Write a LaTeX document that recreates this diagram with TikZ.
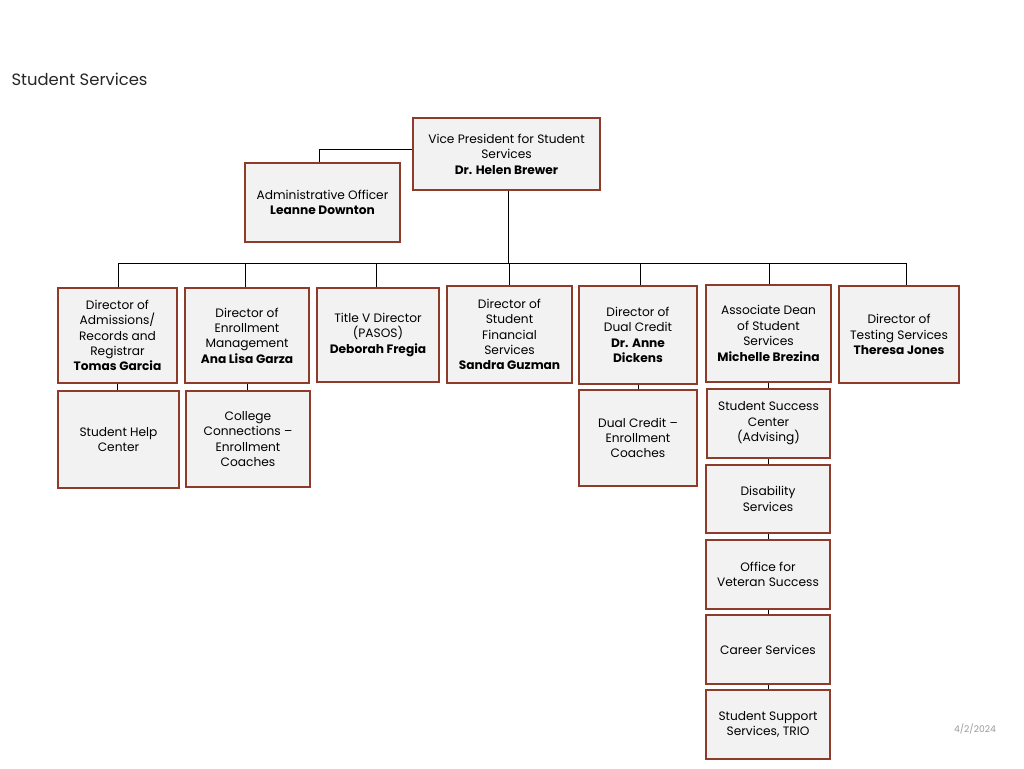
\documentclass[tikz,border=0pt]{standalone}
\usepackage{fontspec}
\setmainfont{Poppins}
\usepackage{xcolor}
\usepackage{tikz}
\usetikzlibrary{positioning}

\definecolor{boxred}{HTML}{8E3B2C}
\definecolor{boxfill}{HTML}{F2F2F2}

\begin{document}
\begin{tikzpicture}[
  x=1pt, y=-1pt,
  every node/.style={font=\fontsize{12.2}{15.4}\selectfont},
  unit/.style={rectangle, draw=boxred, line width=1.6pt, fill=boxfill, align=center, inner sep=1pt},
  link/.style={black, line width=0.9pt},
]
\useasboundingbox (0,0) rectangle (1024,768);

% Title and date
\node[anchor=west, font=\fontsize{16.4}{18}\selectfont, text=black!85] (title) at (8,79) {Student Services};
\node[font=\fontsize{9.2}{10}\selectfont, text=gray!80] (date) at (975,729) {4/2/2024};

% Top level
\node[unit, minimum width=187, minimum height=72] (vp) at (506.5,154) {Vice President for Student\\Services\\\textbf{Dr. Helen Brewer}};
\node[unit, minimum width=155, minimum height=79] (adm) at (322.5,202.5) {Administrative Officer\\\textbf{Leanne Downton}};

% Directors
\node[unit, minimum width=119, minimum height=95] (reg) at (117.5,335.5) {Director of\\Admissions/\\Records and\\Registrar\\\textbf{Tomas Garcia}};
\node[unit, minimum width=124, minimum height=95] (enr) at (247,335.5) {Director of\\Enrollment\\Management\\\textbf{Ana Lisa Garza}};
\node[unit, minimum width=122, minimum height=94] (tv) at (378,335) {Title V Director\\(PASOS)\\\textbf{Deborah Fregia}};
\node[unit, minimum width=125, minimum height=97] (fin) at (509.5,334.5) {Director of\\Student\\Financial\\Services\\\textbf{Sandra Guzman}};
\node[unit, minimum width=118, minimum height=98] (dual) at (638,335) {Director of\\Dual Credit\\\textbf{Dr. Anne}\\\textbf{Dickens}};
\node[unit, minimum width=125, minimum height=97] (dean) at (768.5,333.5) {Associate Dean\\of Student\\Services\\\textbf{Michelle Brezina}};
\node[unit, minimum width=120, minimum height=97] (test) at (899,334.5) {Director of\\Testing Services\\\textbf{Theresa Jones}};

% Second row
\node[unit, minimum width=121, minimum height=97] (help) at (118.5,439.5) {Student Help\\Center};
\node[unit, minimum width=124, minimum height=96] (coll) at (248,439) {College\\Connections --\\Enrollment\\Coaches};
\node[unit, minimum width=118, minimum height=96] (dcc) at (638,438) {Dual Credit --\\Enrollment\\Coaches};

% Under the associate dean
\node[unit, minimum width=123, minimum height=69] (ssc) at (768.5,423.5) {Student Success\\Center\\(Advising)};
\node[unit, minimum width=124, minimum height=68] (dis) at (768,499) {Disability\\Services};
\node[unit, minimum width=124, minimum height=69] (vet) at (768,574.5) {Office for\\Veteran Success};
\node[unit, minimum width=124, minimum height=69] (car) at (768,649.5) {Career Services};
\node[unit, minimum width=124, minimum height=69] (trio) at (768,724.5) {Student Support\\Services, TRIO};

% Bus line
\coordinate (bus) at (508,263);
\draw[link] (vp.south -| bus) -- (bus);
\draw[link] (118,263) -- (906,263);
\draw[link] (vp.west |- 0,149) -| (adm.north -| 319,0);

% Drops
\draw[link] (118,263) -- (reg.north -| 118,0);
\draw[link] (245,263) -- (enr.north -| 245,0);
\draw[link] (376,263) -- (tv.north -| 376,0);
\draw[link] (509,263) -- (fin.north -| 509,0);
\draw[link] (640,263) -- (dual.north -| 640,0);
\draw[link] (769,263) -- (dean.north -| 769,0);
\draw[link] (906,263) -- (test.north -| 906,0);

% Short links
\draw[link] (reg.south) -- (help.north -| reg.south);
\draw[link] (enr.south) -- (coll.north -| enr.south);
\draw[link] (dual.south) -- (dcc.north -| dual.south);
\draw[link] (dean.south) -- (ssc.north -| dean.south);
\draw[link] (ssc.south) -- (dis.north -| ssc.south);
\draw[link] (dis.south) -- (vet.north -| dis.south);
\draw[link] (vet.south) -- (car.north -| vet.south);
\draw[link] (car.south) -- (trio.north -| car.south);

\end{tikzpicture}
\end{document}
